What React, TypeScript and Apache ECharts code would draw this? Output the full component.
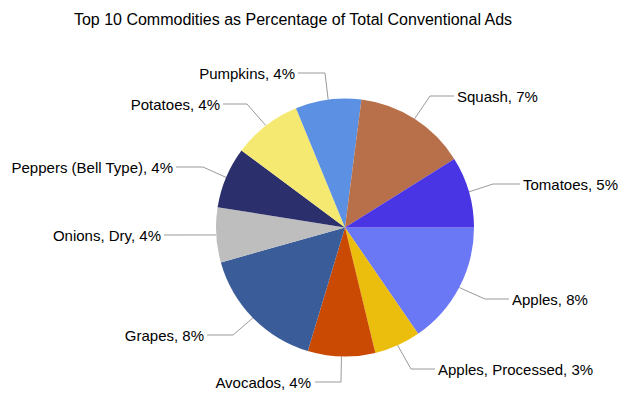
import React, { useEffect, useRef } from "react";
import * as echarts from "echarts";

const TITLE = "Top 10 Commodities as Percentage of Total Conventional Ads";
const categories = [
  "Apples",
  "Apples, Processed",
  "Avocados",
  "Grapes",
  "Onions, Dry",
  "Peppers (Bell Type)",
  "Potatoes",
  "Pumpkins",
  "Squash",
  "Tomatoes",
];
const values = [7.95, 3.0, 4.35, 8.25, 3.55, 3.95, 4.45, 4.25, 7.25, 4.6];
const colors = [
  "#6A78F6",
  "#EBBD0C",
  "#CB4A03",
  "#3A5D9A",
  "#BEBEBE",
  "#2B306C",
  "#F5E971",
  "#5B90E2",
  "#B8704A",
  "#4935E3",
];

// label placement: [align, textX, textY, elbowX, lineEndX]
const labelPlacement: [string, number, number, number, number][] = [
  ["left", 512, 299, 485, 509],
  ["left", 438, 369, 411, 435],
  ["right", 311, 382, 341, 315],
  ["right", 204, 335, 233, 207],
  ["right", 161, 235, 172, 164],
  ["right", 173, 167, 203, 176],
  ["right", 220, 104, 247, 223],
  ["right", 295, 73, 325, 298],
  ["left", 457, 96, 430, 454],
  ["left", 523, 184, 493, 520],
];

const FONT = "'Liberation Sans', Arial, sans-serif";

export default function App() {
  const ref = useRef<HTMLDivElement>(null);
  useEffect(() => {
    document.body.style.margin = "0";
    const chart = echarts.init(ref.current!, null, { renderer: "svg" });
    chart.setOption({
      animation: false,
      backgroundColor: "#ffffff",
      title: {
        text: TITLE,
        left: 288,
        top: 6,
        textAlign: "center",
        textStyle: { fontFamily: FONT, fontSize: 16, fontWeight: "normal", color: "#000" },
      },
      series: [
        {
          type: "pie",
          center: [345, 227.5],
          radius: 129,
          startAngle: 0,
          clockwise: true,
          avoidLabelOverlap: false,
          data: categories.map((name, i) => ({
            name,
            value: values[i],
            itemStyle: { color: colors[i] },
          })),
          itemStyle: { borderWidth: 0 },
          emphasis: { disabled: true },
          label: {
            show: true,
            position: "outside",
            fontFamily: FONT,
            fontSize: 15,
            color: "#000",
            formatter: (p: any) => `${p.name}, ${Math.round(p.value)}%`,
          },
          labelLine: {
            show: true,
            lineStyle: { color: "#9a9a9a", width: 1 },
          },
          labelLayout: (params: any) => {
            const [align, tx, ty, ex, lx] = labelPlacement[params.dataIndex];
            const start = params.labelLinePoints ? params.labelLinePoints[0] : [ex, ty];
            return {
              x: tx,
              y: ty,
              align,
              verticalAlign: "middle",
              hideOverlap: false,
              labelLinePoints: [start, [ex, ty], [lx, ty]],
            };
          },
        },
      ],
    });
    return () => chart.dispose();
  }, []);
  return <div ref={ref} style={{ width: 626, height: 395 }} />;
}
